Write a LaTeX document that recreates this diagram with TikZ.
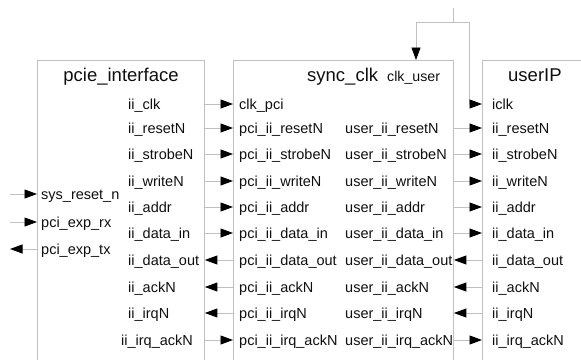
\documentclass[tikz,border=0pt]{standalone}
\usepackage{fontspec}
\setmainfont{Liberation Sans}
\usetikzlibrary{arrows.meta}

\definecolor{wiregray}{RGB}{192,192,192}
\definecolor{inkgray}{RGB}{15,15,15}

\tikzset{
    wire/.style={draw=wiregray, line width=0.9pt},
    sig/.style={wire, -{Triangle[length=12.5pt, width=9pt, fill=black, color=black]}},
    block/.style={wire, rectangle, anchor=north west, inner sep=0pt, minimum height=340pt},
    port/.style={anchor=west, inner sep=0pt, text height=11pt, text depth=0pt, text=inkgray,
                 font=\fontsize{14.5}{16}\selectfont},
    title/.style={anchor=base west, inner sep=0pt, text=inkgray, font=\fontsize{18.5}{20}\selectfont},
    subtitle/.style={anchor=base west, inner sep=0pt, text=inkgray, font=\fontsize{14.2}{16}\selectfont}
}

\begin{document}
\begin{tikzpicture}[x=1pt, y=-1pt]
        \useasboundingbox (0,0) rectangle (581,359);
        \begin{scope}
            \clip (0,0) rectangle (581,359);
            \node[block, minimum width=167pt] (pcie) at (37,60) {};
            \node[block, minimum width=220pt] (sync) at (233,60) {};
            \node[block, minimum width=140pt] (user) at (482,60) {};
        \end{scope}

        \node[title, anchor=base] (pcie-name) at (121,81) {pcie\_interface};
        \node[title]    (sync-name) at (307,81) {sync\_clk};
        \node[subtitle] (sync-clk_user) at (387,81) {clk\_user};
        \node[title]    (user-name) at (508,81) {userIP};

        \node[port] (p-sys_reset_n) at (41,194) {sys\_reset\_n};
        \node[port] (p-pci_exp_rx)  at (41,222) {pci\_exp\_rx};
        \node[port] (p-pci_exp_tx)  at (41,249) {pci\_exp\_tx};

        \node[port] (p-clk)        at (128,104) {ii\_clk};
        \node[port] (p-resetN)     at (128,128) {ii\_resetN};
        \node[port] (p-strobeN)    at (128,154) {ii\_strobeN};
        \node[port] (p-writeN)     at (128,181) {ii\_writeN};
        \node[port] (p-addr)       at (128,207) {ii\_addr};
        \node[port] (p-data_in)    at (128,233) {ii\_data\_in};
        \node[port] (p-data_out)   at (128,260) {ii\_data\_out};
        \node[port] (p-ackN)       at (128,287) {ii\_ackN};
        \node[port] (p-irqN)       at (128,313) {ii\_irqN};
        \node[port] (p-irq_ackN)   at (121,340) {ii\_irq\_ackN};

        \node[port] (s-clk)        at (239,104) {clk\_pci};
        \node[port] (s-resetN)     at (239,128) {pci\_ii\_resetN};
        \node[port] (s-strobeN)    at (239,154) {pci\_ii\_strobeN};
        \node[port] (s-writeN)     at (239,181) {pci\_ii\_writeN};
        \node[port] (s-addr)       at (239,207) {pci\_ii\_addr};
        \node[port] (s-data_in)    at (239,233) {pci\_ii\_data\_in};
        \node[port] (s-data_out)   at (239,260) {pci\_ii\_data\_out};
        \node[port] (s-ackN)       at (239,287) {pci\_ii\_ackN};
        \node[port] (s-irqN)       at (239,313) {pci\_ii\_irqN};
        \node[port] (s-irq_ackN)   at (239,340) {pci\_ii\_irq\_ackN};

        \node[port] (su-resetN)    at (345,128) {user\_ii\_resetN};
        \node[port] (su-strobeN)   at (345,154) {user\_ii\_strobeN};
        \node[port] (su-writeN)    at (345,181) {user\_ii\_writeN};
        \node[port] (su-addr)      at (345,207) {user\_ii\_addr};
        \node[port] (su-data_in)   at (345,233) {user\_ii\_data\_in};
        \node[port] (su-data_out)  at (345,260) {user\_ii\_data\_out};
        \node[port] (su-ackN)      at (345,287) {user\_ii\_ackN};
        \node[port] (su-irqN)      at (345,313) {user\_ii\_irqN};
        \node[port] (su-irq_ackN)  at (345,340) {user\_ii\_irq\_ackN};

        \node[port] (u-clk)        at (492,104) {iclk};
        \node[port] (u-resetN)     at (492,128) {ii\_resetN};
        \node[port] (u-strobeN)    at (492,154) {ii\_strobeN};
        \node[port] (u-writeN)     at (492,181) {ii\_writeN};
        \node[port] (u-addr)       at (492,207) {ii\_addr};
        \node[port] (u-data_in)    at (492,233) {ii\_data\_in};
        \node[port] (u-data_out)   at (492,260) {ii\_data\_out};
        \node[port] (u-ackN)       at (492,287) {ii\_ackN};
        \node[port] (u-irqN)       at (492,313) {ii\_irqN};
        \node[port] (u-irq_ackN)   at (492,340) {ii\_irq\_ackN};

        \coordinate (ext-sys_reset_n) at (10,194);
        \coordinate (ext-pci_exp_rx)  at (10,222);
        \coordinate (ext-pci_exp_tx)  at (10,249);
        \coordinate (pe-sys_reset_n)  at (37,194);
        \coordinate (pe-pci_exp_rx)   at (37,222);
        \coordinate (pe-pci_exp_tx)   at (37,249);

        \coordinate (clk-src)   at (453,8);
        \coordinate (clk-split) at (453,22);
        \coordinate (clk-in)    at (416,60);
        \coordinate (clk-bend)  at (469,104);

        \draw[sig] (ext-sys_reset_n) -- (pe-sys_reset_n);
        \draw[sig] (ext-pci_exp_rx)  -- (pe-pci_exp_rx);
        \draw[sig] (pe-pci_exp_tx)   -- (ext-pci_exp_tx);

        \draw[sig] (pcie.east |- p-clk)      -- (sync.west |- s-clk);
        \draw[sig] (pcie.east |- p-resetN)   -- (sync.west |- s-resetN);
        \draw[sig] (pcie.east |- p-strobeN)  -- (sync.west |- s-strobeN);
        \draw[sig] (pcie.east |- p-writeN)   -- (sync.west |- s-writeN);
        \draw[sig] (pcie.east |- p-addr)     -- (sync.west |- s-addr);
        \draw[sig] (pcie.east |- p-data_in)  -- (sync.west |- s-data_in);
        \draw[sig] (sync.west |- s-data_out) -- (pcie.east |- p-data_out);
        \draw[sig] (sync.west |- s-ackN)     -- (pcie.east |- p-ackN);
        \draw[sig] (sync.west |- s-irqN)     -- (pcie.east |- p-irqN);
        \draw[sig] (pcie.east |- p-irq_ackN) -- (sync.west |- s-irq_ackN);

        \draw[sig] (sync.east |- su-resetN)   -- (user.west |- u-resetN);
        \draw[sig] (sync.east |- su-strobeN)  -- (user.west |- u-strobeN);
        \draw[sig] (sync.east |- su-writeN)   -- (user.west |- u-writeN);
        \draw[sig] (sync.east |- su-addr)     -- (user.west |- u-addr);
        \draw[sig] (sync.east |- su-data_in)  -- (user.west |- u-data_in);
        \draw[sig] (user.west |- u-data_out)  -- (sync.east |- su-data_out);
        \draw[sig] (user.west |- u-ackN)      -- (sync.east |- su-ackN);
        \draw[sig] (user.west |- u-irqN)      -- (sync.east |- su-irqN);
        \draw[sig] (sync.east |- su-irq_ackN) -- (user.west |- u-irq_ackN);

        \draw[wire] (clk-src) -- (clk-split);
        \draw[sig] (clk-split) -| (clk-in);
        \draw[sig] (clk-split) -| (clk-bend) -- (user.west |- u-clk);
\end{tikzpicture}
\end{document}
